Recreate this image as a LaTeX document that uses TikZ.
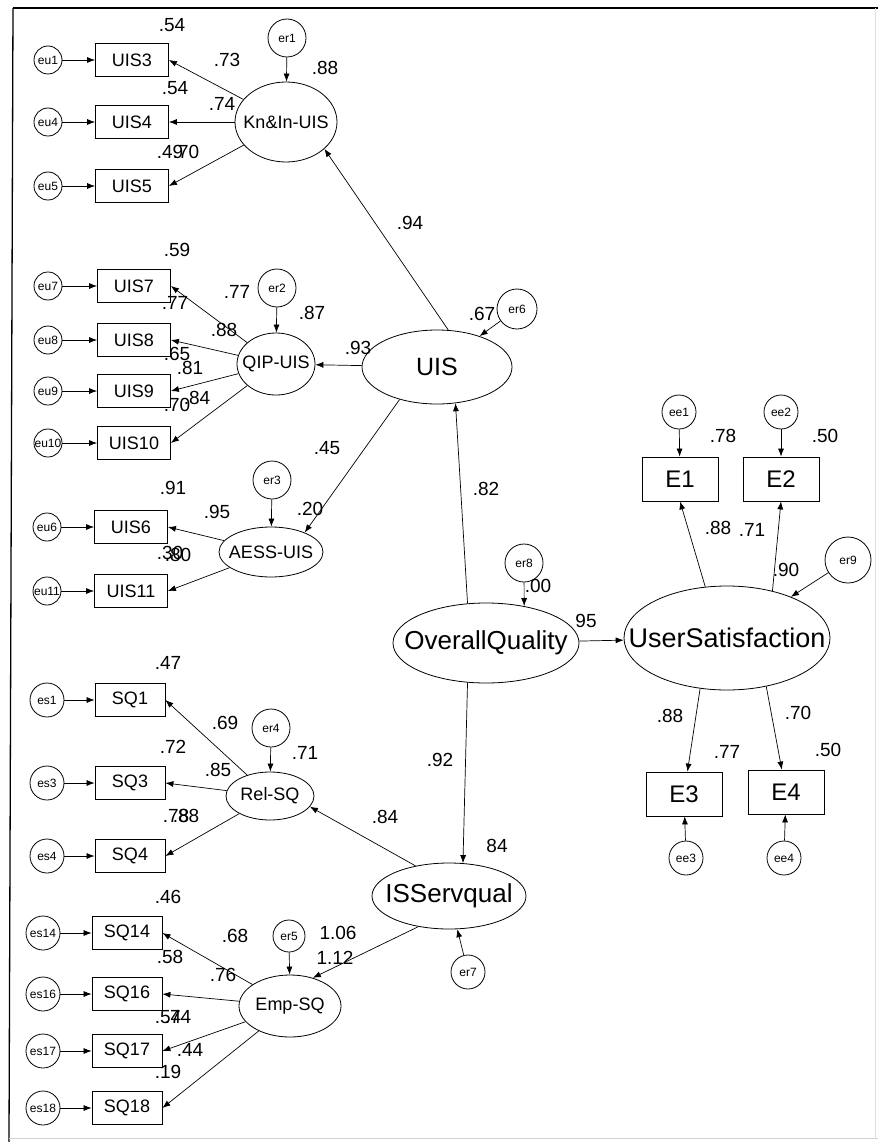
\documentclass[tikz,border=0pt]{standalone}
\usepackage{fontspec}
\setmainfont{Liberation Sans}
\usetikzlibrary{shapes.geometric,arrows.meta}
\newcommand{\latlabel}[1]{\makebox[0pt]{#1}}

\begin{document}
\begin{tikzpicture}[x=1pt, y=-1pt, >={Latex[length=8pt,width=6pt]}]
    \tikzset{
        latent/.style={ellipse, draw, line width=0.8pt, inner sep=0pt, font=\fontsize{18}{20}\selectfont},
        obs/.style={rectangle, draw, line width=0.8pt, minimum width=73pt, minimum height=33pt, inner sep=0pt, font=\fontsize{18}{20}\selectfont},
        bigobs/.style={obs, minimum width=76pt, minimum height=44pt, font=\fontsize{24}{26}\selectfont},
        err/.style={circle, draw, line width=0.8pt, inner sep=0pt, font=\fontsize{12}{12}\selectfont},
        coef/.style={inner sep=0pt, font=\fontsize{19}{20}\selectfont},
        link/.style={->, line width=0.7pt}
    }

        % frame
        \useasboundingbox (0,0) rectangle (878,1142);
        \draw[line width=1.3pt] (13,8) -- (878,8);
        \draw[line width=1.3pt] (13,8) -- (9,1142);
        \draw[gray!35] (9,1138) -- (878,1138);
        \draw[gray!25] (875,8) -- (875,1138);

        % latent variables
        \node[latent, minimum width=102pt, minimum height=80pt] (kn) at (286,122) {\latlabel{Kn\&In-UIS}};
        \node[latent, minimum width=78pt, minimum height=62pt] (qip) at (276,364) {\latlabel{QIP-UIS}};
        \node[latent, minimum width=104pt, minimum height=50pt] (aess) at (271,552) {\latlabel{AESS-UIS}};
        \node[latent, minimum width=150pt, minimum height=74pt, font=\fontsize{25}{26}\selectfont] (uis) at (437,367) {\latlabel{UIS}};
        \node[latent, minimum width=186pt, minimum height=80pt, font=\fontsize{26}{28}\selectfont] (oq) at (486,643) {\latlabel{OverallQuality}};
        \node[latent, minimum width=206pt, minimum height=104pt, font=\fontsize{27}{28}\selectfont] (us) at (727,638) {\latlabel{UserSatisfaction}};
        \node[latent, minimum width=154pt, minimum height=66pt, font=\fontsize{26}{28}\selectfont] (issq) at (449,896) {\latlabel{ISServqual}};
        \node[latent, minimum width=88pt, minimum height=48pt] (rel) at (270,796) {\latlabel{Rel-SQ}};
        \node[latent, minimum width=102pt, minimum height=62pt] (emp) at (290,1006) {\latlabel{Emp-SQ}};

        % indicators with their error terms
        \foreach \v/\e/\y in {3/1/60, 4/4/122, 5/5/186} {
            \node[obs] (uis\v) at (132,\y) {UIS\v};
            \node[err, minimum size=28pt] (eu\e) at (48,\y) {eu\e};
            \draw[link] (eu\e) -- (uis\v);
            \draw[link] (kn) -- (uis\v.east);
        }
        \foreach \v/\y in {7/286, 8/340, 9/391, 10/443} {
            \node[obs] (uis\v) at (134,\y) {UIS\v};
            \node[err, minimum size=28pt] (eu\v) at (48,\y) {eu\v};
            \draw[link] (eu\v) -- (uis\v);
            \draw[link] (qip) -- (uis\v.east);
        }
        \foreach \v/\y in {6/527, 11/591} {
            \node[obs] (uis\v) at (131,\y) {UIS\v};
            \node[err, minimum size=28pt] (eu\v) at (47,\y) {eu\v};
            \draw[link] (eu\v) -- (uis\v);
            \draw[link] (aess) -- (uis\v.east);
        }
        \foreach \v/\y in {1/700, 3/783, 4/856} {
            \node[obs, minimum width=70pt] (sq\v) at (130,\y) {SQ\v};
            \node[err, minimum size=34pt] (es\v) at (47,\y) {es\v};
            \draw[link] (es\v) -- (sq\v);
            \draw[link] (rel) -- (sq\v.east);
        }
        \foreach \v/\y in {14/933, 16/994, 17/1051, 18/1108} {
            \node[obs, minimum width=70pt] (sq\v) at (127,\y) {SQ\v};
            \node[err, minimum size=34pt] (es\v) at (43,\y) {es\v};
            \draw[link] (es\v) -- (sq\v);
            \draw[link] (emp) -- (sq\v.east);
        }
        \node[bigobs] (e1) at (680,479) {E1};
        \node[bigobs] (e2) at (781,479) {E2};
        \node[bigobs] (e3) at (684,794) {E3};
        \node[bigobs] (e4) at (786,792) {E4};
        \node[err, minimum size=34pt] (ee1) at (679,412) {ee1};
        \node[err, minimum size=34pt] (ee2) at (781,412) {ee2};
        \node[err, minimum size=34pt] (ee3) at (686,858) {ee3};
        \node[err, minimum size=34pt] (ee4) at (784,858) {ee4};
        \draw[link] (ee1) -- (e1);
        \draw[link] (ee2) -- (e2);
        \draw[link] (ee3) -- (e3);
        \draw[link] (ee4) -- (e4);

        % residuals of the latent variables
        \node[err, minimum size=38pt] (er1) at (287,38) {er1};
        \node[err, minimum size=38pt] (er2) at (277,288) {er2};
        \node[err, minimum size=38pt] (er3) at (272,480) {er3};
        \node[err, minimum size=38pt] (er4) at (271,728) {er4};
        \node[err, minimum size=32pt] (er5) at (289,936) {er5};
        \node[err, minimum size=40pt] (er6) at (517,309) {er6};
        \node[err, minimum size=34pt] (er7) at (468,972) {er7};
        \node[err, minimum size=38pt] (er8) at (524,563) {er8};
        \node[err, minimum size=46pt] (er9) at (848,560) {er9};
        \draw[link] (er1) -- (kn);
        \draw[link] (er2) -- (qip);
        \draw[link] (er3) -- (aess);
        \draw[link] (er4) -- (rel);
        \draw[link] (er5) -- (emp);
        \draw[link] (er6) -- (uis);
        \draw[link] (er7) -- (issq);
        \draw[link] (er8) -- (oq.44);
        \draw[link] (er9) -- (us);

        % structural paths
        \draw[link] (uis.73) -- (kn.325);
        \draw[link] (uis) -- (qip);
        \draw[link] (uis.221) -- (aess.30);
        \draw[link] (oq.115) -- (uis.297);
        \draw[link] (oq) -- (us);
        \draw[link] (oq.245) -- (issq.67);
        \draw[link] (issq.138) -- (rel.345);
        \draw[link] (issq.225) -- (emp.51);
        \draw[link] (us.113) -- (e1.south);
        \draw[link] (us.46) -- (e2.south);
        \draw[link] (us.242) -- (e3);
        \draw[link] (us.309) -- (e4);

        % estimates
        \foreach \t/\x/\y [count=\i] in {
            .54/172/25, .73/227/60, .88/325/68, .54/175/88, .74/222/104,
            .49/170/152, .70/186/152, .94/410/223,
            .59/177/250, .77/237/292, .77/175/303, .88/224/330, .87/312/313,
            .65/177/354, .81/190/368, .93/358/348, .70/177/405, .84/197/398,
            .45/327/448, .91/173/488, .95/217/512, .20/310/509, .30/170/553, .80/178/555,
            .67/482/314, .82/486/489, .00/538/586, 95/586/621,
            .78/723/436, .50/825/436, .88/718/528, .71/752/530, .90/786/570,
            .88/670/716, .70/798/713, .77/727/752, .50/828/750,
            .92/440/760, 84/497/846, .84/385/817,
            .47/168/663, .69/225/723, .71/305/753, .72/173/747, .85/218/770,
            .78/176/816, .88/186/816,
            .46/168/897, .68/235/936, .58/170/957, .76/223/975,
            .54/168/1017, .74/178/1017, .44/190/1050, .19/168/1072,
            1.06/338/933, 1.12/335/958} {
            \node[coef] (est\i) at (\x,\y) {\t};
        }

    \end{tikzpicture}
\end{document}
